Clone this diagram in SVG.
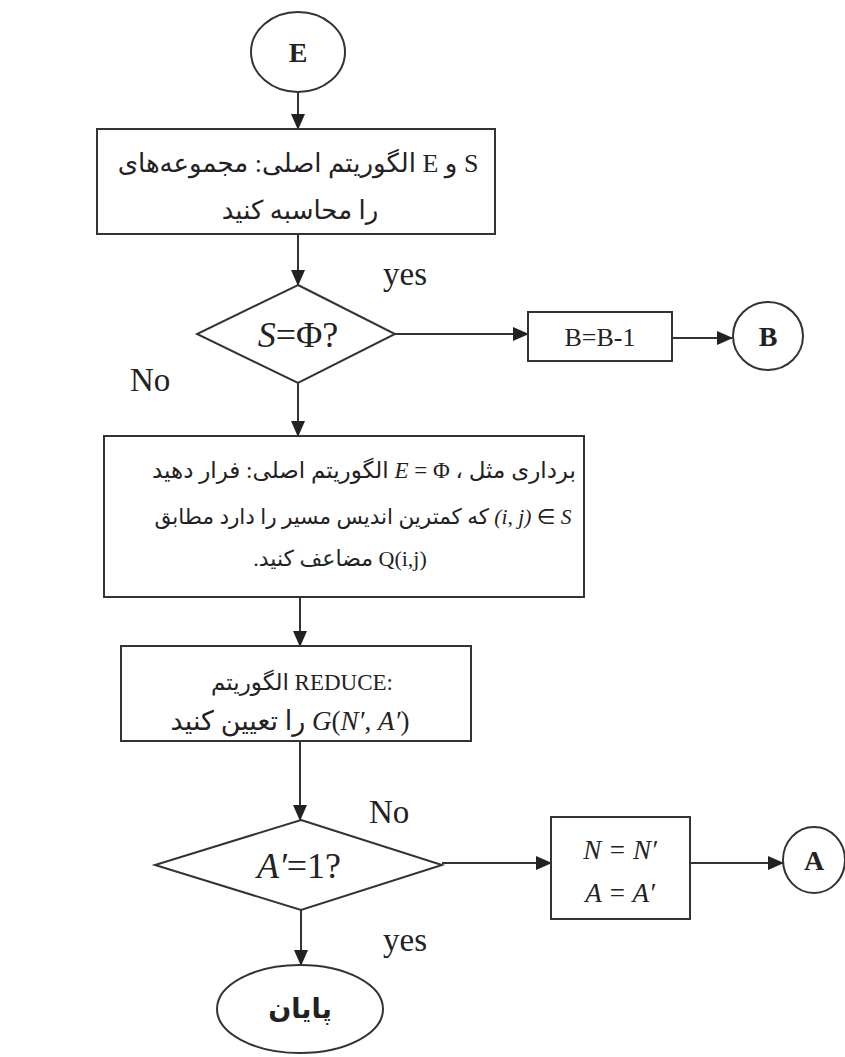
<svg xmlns="http://www.w3.org/2000/svg" width="845" height="1057" viewBox="0 0 845 1057">
<defs>
<marker id="ah" markerUnits="userSpaceOnUse" markerWidth="16" markerHeight="14" refX="15" refY="7" orient="auto">
<path d="M0,0 L16,7 L0,14 Z" fill="#222"/>
</marker>
<style>
.sh{fill:#fff;stroke:#333;stroke-width:2}
.cn{stroke:#333;stroke-width:2;fill:none;marker-end:url(#ah)}
.t{font-family:'Liberation Serif','DejaVu Sans',serif;fill:#222;text-anchor:middle}
.fa{font-family:'Liberation Serif','DejaVu Sans',serif;fill:#222;text-anchor:middle;direction:ltr}
.fr{font-family:'Liberation Serif','DejaVu Sans',serif;fill:#222;text-anchor:middle;direction:rtl}
.m{font-style:italic;font-family:'Liberation Serif',serif}
.lbl{font-family:'Liberation Serif',serif;fill:#222;font-size:33px}
.b{font-weight:bold;font-size:28px}
</style>
</defs>
<rect width="845" height="1057" fill="#fff"/>

<g id="connectors">
<line class="cn" x1="298" y1="92" x2="298" y2="129"/>
<line class="cn" x1="298" y1="234" x2="298" y2="285"/>
<line class="cn" x1="395" y1="334" x2="528" y2="334"/>
<line class="cn" x1="672" y1="338" x2="732" y2="338"/>
<line class="cn" x1="298" y1="383" x2="298" y2="436"/>
<line class="cn" x1="300" y1="597" x2="300" y2="646"/>
<line class="cn" x1="300" y1="741" x2="300" y2="820"/>
<line class="cn" x1="442" y1="863" x2="551" y2="863"/>
<line class="cn" x1="690" y1="863" x2="783" y2="863"/>
<line class="cn" x1="301" y1="910" x2="301" y2="965"/>
<text class="lbl" x="383" y="285">yes</text>
<text class="lbl" x="130" y="391">No</text>
<text class="lbl" x="369" y="823">No</text>
<text class="lbl" x="383" y="951">yes</text>
</g>

<g id="nodeE">
<ellipse class="sh" cx="298" cy="52" rx="47" ry="40"/>
<text class="t b" x="298" y="62">E</text>
</g>

<g id="box1">
<rect class="sh" x="97" y="129" width="398" height="105"/>
<text class="fa" x="298" y="172" font-size="26">الگوریتم اصلی: مجموعه‌های E و S</text>
<text class="fa" x="300" y="219" font-size="26">را محاسبه کنید</text>
</g>

<g id="dec1">
<polygon class="sh" points="298,285 395,334 298,383 197,334"/>
<text class="t" x="298" y="347" font-size="36"><tspan class="m">S</tspan>=Φ?</text>
</g>

<g id="boxB1">
<rect class="sh" x="528" y="312" width="144" height="49"/>
<text class="t" x="600" y="346" font-size="26">B=B-1</text>
</g>

<g id="nodeB">
<ellipse class="sh" cx="768" cy="336" rx="35" ry="34"/>
<text class="t b" x="768" y="346">B</text>
</g>

<g id="box2">
<rect class="sh" x="104" y="436" width="480" height="161"/>
<text class="fa" x="364" y="478" font-size="23">الگوریتم اصلی:  فرار دهید <tspan class="m">E</tspan> = Φ ، برداری مثل</text>
<text class="fa" x="363" y="524" font-size="21.5">که کمترین اندیس مسیر را دارد مطابق  <tspan class="m">(i, j)</tspan> ∈ <tspan class="m">S</tspan></text>
<text class="fr" x="340" y="566" font-size="22">Q(i,j) مضاعف کنید.</text>
</g>

<g id="box3">
<rect class="sh" x="121" y="646" width="350" height="95"/>
<text class="fa" x="302" y="690" font-size="23">الگوریتم REDUCE:</text>
<text class="fa" x="290" y="730" font-size="27">را تعیین کنید <tspan class="m">G</tspan>(<tspan class="m">N′</tspan>, <tspan class="m">A′</tspan>)</text>
</g>

<g id="dec2">
<polygon class="sh" points="301,820 442,865 301,910 155,865"/>
<text class="t" x="299" y="878" font-size="36"><tspan class="m">A′</tspan>=1?</text>
</g>

<g id="boxN">
<rect class="sh" x="551" y="817" width="139" height="102"/>
<text class="t m" x="620" y="859" font-size="27">N = N′</text>
<text class="t m" x="620" y="902" font-size="27">A = A′</text>
</g>

<g id="nodeA">
<ellipse class="sh" cx="814" cy="860" rx="31" ry="33"/>
<text class="t b" x="814" y="870">A</text>
</g>

<g id="endNode">
<ellipse class="sh" cx="300" cy="1009" rx="83" ry="44"/>
<text class="t" x="300" y="1018" font-size="27" font-weight="bold">پایان</text>
</g>
</svg>
